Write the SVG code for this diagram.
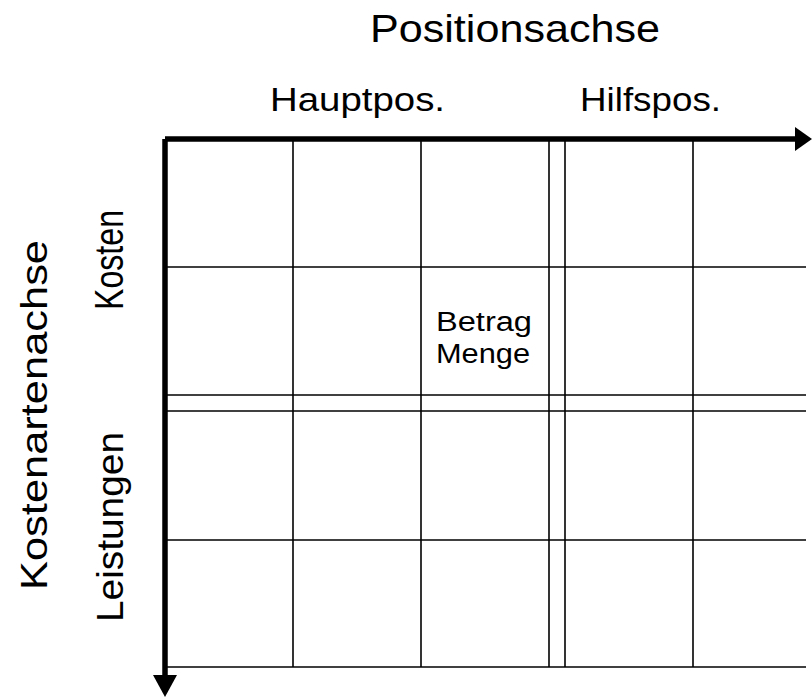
<svg xmlns="http://www.w3.org/2000/svg" width="812" height="697" viewBox="0 0 812 697">
  <style>
    .axis { stroke: #000; stroke-width: 5.5; fill: none; }
    .grid { stroke: #000; stroke-width: 1.6; fill: none; }
    .head { fill: #000; }
    text { font-family: "Liberation Sans", Arial, sans-serif; fill: #000; }
  </style>
  <rect width="812" height="697" fill="#fff"/>

  <!-- cell grid -->
  <g id="grid" class="grid">
    <line x1="293" y1="139" x2="293" y2="667"/>
    <line x1="421" y1="139" x2="421" y2="667"/>
    <line x1="549" y1="139" x2="549" y2="667"/>
    <line x1="565" y1="139" x2="565" y2="667"/>
    <line x1="693" y1="139" x2="693" y2="667"/>
    <line x1="165" y1="267" x2="806" y2="267"/>
    <line x1="165" y1="395" x2="806" y2="395"/>
    <line x1="165" y1="411" x2="806" y2="411"/>
    <line x1="165" y1="540" x2="806" y2="540"/>
    <line x1="165" y1="667" x2="806" y2="667"/>
  </g>

  <!-- axes -->
  <g id="connectors">
    <line class="axis" x1="165" y1="139" x2="796" y2="139"/>
    <polygon class="head" points="795,127 812,139 795,151"/>
    <line class="axis" x1="165" y1="139" x2="165" y2="676"/>
    <polygon class="head" points="153,675 177,675 165,697"/>
  </g>

  <!-- axis titles -->
  <g id="position-axis">
    <text x="370" y="41.7" font-size="38.5" textLength="290" lengthAdjust="spacingAndGlyphs">Positionsachse</text>
  </g>
  <g id="hauptpos">
    <text x="270" y="111" font-size="33" textLength="175" lengthAdjust="spacingAndGlyphs">Hauptpos.</text>
  </g>
  <g id="hilfspos">
    <text x="580" y="111" font-size="33" textLength="141" lengthAdjust="spacingAndGlyphs">Hilfspos.</text>
  </g>
  <g id="cost-type-axis">
    <text transform="translate(47,415) rotate(-90)" text-anchor="middle" font-size="37" textLength="350" lengthAdjust="spacingAndGlyphs">Kostenartenachse</text>
  </g>
  <g id="kosten">
    <text transform="translate(123,260) rotate(-90)" text-anchor="middle" font-size="40" textLength="100" lengthAdjust="spacingAndGlyphs">Kosten</text>
  </g>
  <g id="leistungen">
    <text transform="translate(123,527) rotate(-90)" text-anchor="middle" font-size="37" textLength="190" lengthAdjust="spacingAndGlyphs">Leistungen</text>
  </g>

  <!-- cell content -->
  <g id="cell-betrag-menge">
    <text x="436" y="331" font-size="27" textLength="96" lengthAdjust="spacingAndGlyphs">Betrag</text>
    <text x="436" y="363" font-size="27" textLength="94" lengthAdjust="spacingAndGlyphs">Menge</text>
  </g>
</svg>
